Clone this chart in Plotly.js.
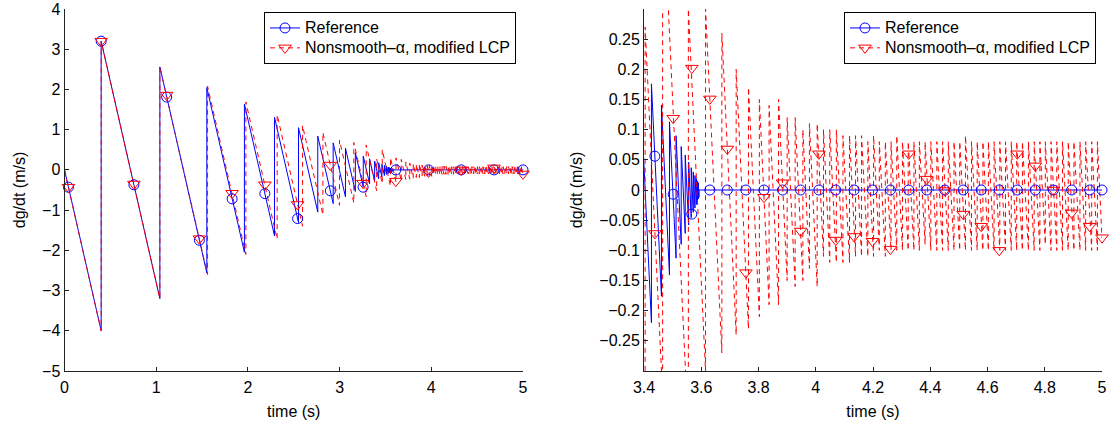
<!DOCTYPE html>
<html><head><meta charset="utf-8">
<script src="https://cdn.plot.ly/plotly-3.0.1.min.js"></script>
<style>html,body{margin:0;padding:0;background:#fff;}#chart{width:1117px;height:428px;}</style>
</head><body><div id="chart"></div>
<script>
// ---------- Reference solution (bouncing ball velocity) ----------
const refStartT = 0, refStartV = 0;
const refImpactT = [0.400,1.040,1.552,1.962,2.290,2.552,2.762,2.930,3.064,3.172,3.258,3.327,3.382,3.426,3.461,3.489,3.512,3.530,3.544,3.556,3.565,3.572,3.578,3.583,3.587,3.590,3.592];
const refVBefore = [-4.000,-3.200,-2.560,-2.048,-1.638,-1.311,-1.049,-0.839,-0.671,-0.537,-0.429,-0.344,-0.275,-0.220,-0.176,-0.141,-0.113,-0.090,-0.072,-0.058,-0.046,-0.037,-0.030,-0.024,-0.019,-0.015,-0.012];
const refVAfter  = [3.200,2.560,2.048,1.638,1.311,1.049,0.839,0.671,0.537,0.429,0.344,0.275,0.220,0.176,0.141,0.113,0.090,0.072,0.058,0.046,0.037,0.030,0.024,0.019,0.015,0.012,0.000];
const refEndT = 5.0, refEndV = 0.0;

// ---------- Nonsmooth-alpha, modified LCP ----------
const nsStartT = 0, nsStartV = 0;
const nsImpactT = [0.400,1.040,1.560,1.978,2.319,2.596,2.818,2.999,3.155,3.290,
  3.404,3.465,3.555,3.615,3.672,3.722,3.765,3.803,3.837,3.870,3.900,3.928,3.955,3.978,4.005,4.027,4.049,
  4.072,4.095,4.118,4.139,4.160,4.182,4.202,4.222,4.243,4.263,4.283,4.303,4.323,4.343,4.362,4.382,4.402,4.423,
  4.443,4.463,4.483,4.503,4.523,4.544,4.564,4.584,4.603,4.623,4.643,4.663,4.683,4.702,4.722,4.743,4.763,4.783,
  4.802,4.822,4.842,4.862,4.882,4.902,4.923,4.943,4.964,4.984];
const nsVBefore = [-4.00,-3.20,-2.60,-2.10,-1.72,-1.40,-1.12,-0.88,-0.82,-0.67,
  -0.52,-0.34,-0.40,-0.30,-0.27,-0.24,-0.23,-0.21,-0.19,-0.19,-0.15,-0.16,-0.15,-0.13,-0.16,-0.11,-0.12,
  -0.12,-0.12,-0.12,-0.11,-0.11,-0.11,-0.11,-0.10,-0.11,-0.10,-0.10,-0.10,-0.10,-0.10,-0.10,-0.09,-0.10,-0.10,
  -0.10,-0.10,-0.10,-0.10,-0.10,-0.10,-0.10,-0.10,-0.10,-0.10,-0.10,-0.10,-0.10,-0.10,-0.10,-0.10,-0.10,-0.10,
  -0.09,-0.10,-0.10,-0.10,-0.10,-0.10,-0.10,-0.10,-0.10,-0.10];
const nsVAfter = [3.20,2.56,2.08,1.69,1.37,1.10,0.93,0.74,0.68,0.62,
  0.27,0.50,0.30,0.30,0.26,0.20,0.17,0.15,0.14,0.15,0.12,0.12,0.10,0.11,0.11,0.10,0.10,
  0.10,0.09,0.09,0.09,0.09,0.08,0.09,0.08,0.08,0.08,0.09,0.08,0.08,0.08,0.08,0.08,0.08,0.08,
  0.08,0.08,0.08,0.08,0.09,0.08,0.08,0.08,0.08,0.08,0.08,0.08,0.08,0.08,0.08,0.08,0.08,0.08,
  0.08,0.08,0.08,0.08,0.08,0.08,0.08,0.08,0.08,0.08];
const nsEndT = 5.0, nsEndV = -0.08;

// ---------- Marker samples, left panel ----------
const markT1 = [0.043,0.400,0.757,1.114,1.471,1.828,2.185,2.542,2.899,3.256,3.613,3.970,4.327,4.684,5.000];
const refMark1 = [-0.43,3.20,-0.37,1.81,-1.75,-0.72,-0.59,-1.21,-0.52,-0.43,0,0,0,0,0];
const nsMark1  = [-0.43,3.20,-0.35,1.86,-1.71,-0.58,-0.37,-0.86,0.12,-0.33,-0.28,-0.05,0.00,0.05,-0.10];

// ---------- Marker samples, right panel ----------
const markT2 = [3.438,3.502,3.567,3.630,3.691,3.756,3.819,3.884,3.947,4.011,4.070,4.134,4.198,4.261,4.325,4.388,4.451,4.515,4.578,4.641,4.704,4.767,4.830,4.894,4.957,5.000];
const refMark2 = [0.056,-0.007,-0.040,0,0,0,0,0,0,0,0,0,0,0,0,0,0,0,0,0,0,0,0,0,0,0];
const nsMark2  = [-0.072,0.119,0.202,0.151,0.068,-0.137,-0.012,0.012,-0.068,0.060,-0.083,-0.077,-0.085,-0.098,0.060,0.018,-0.001,-0.040,-0.060,-0.100,0.060,0.040,0.000,-0.038,-0.060,-0.079];

const legendNames = ['Reference', 'Nonsmooth\u2013\u03b1, modified LCP'];

function buildPath(t0, v0, ts, vb, va, tEnd, vEnd) {
  const x = [t0], y = [v0];
  for (let i = 0; i < ts.length; i++) { x.push(ts[i], ts[i]); y.push(vb[i], va[i]); }
  x.push(tEnd); y.push(vEnd);
  return {x, y};
}
const refPath = buildPath(refStartT, refStartV, refImpactT, refVBefore, refVAfter, refEndT, refEndV);
const nsPath  = buildPath(nsStartT, nsStartV, nsImpactT, nsVBefore, nsVAfter, nsEndT, nsEndV);

const BLUE = '#0000ff', RED = '#ff0000';
const FONT = 'Liberation Sans, Arial, Helvetica, sans-serif';
const refLine = {color: BLUE, width: 1};
const nsLine = {color: RED, width: 1, dash: '5px,4px'};
const refMarker = {symbol: 'circle-open', size: 10, color: BLUE, line: {width: 1, color: BLUE}};
const nsMarker = {symbol: 'triangle-down-open', size: 11, color: RED, line: {width: 1, color: RED}};
const legendLabel = s => '<span style="font-size:16px">' + s + '</span>';

const traces = [];
[['x','y','legend'],['x2','y2','legend2']].forEach(([xa, ya, lg], k) => {
  const mT = k === 0 ? markT1 : markT2;
  const mR = k === 0 ? refMark1 : refMark2;
  const mN = k === 0 ? nsMark1 : nsMark2;
  traces.push({x: refPath.x, y: refPath.y, xaxis: xa, yaxis: ya, mode: 'lines', line: refLine, showlegend: false, hoverinfo: 'skip'});
  traces.push({x: nsPath.x, y: nsPath.y, xaxis: xa, yaxis: ya, mode: 'lines', line: nsLine, showlegend: false, hoverinfo: 'skip'});
  traces.push({x: mT, y: mR, xaxis: xa, yaxis: ya, mode: 'markers', marker: refMarker, showlegend: false, cliponaxis: false, hoverinfo: 'skip'});
  traces.push({x: mT, y: mN, xaxis: xa, yaxis: ya, mode: 'markers', marker: nsMarker, showlegend: false, cliponaxis: false, hoverinfo: 'skip'});
  traces.push({x: [null], y: [null], xaxis: xa, yaxis: ya, mode: 'lines+markers', line: refLine, marker: refMarker, name: legendLabel(legendNames[0]), legend: lg, showlegend: true});
  traces.push({x: [null], y: [null], xaxis: xa, yaxis: ya, mode: 'lines+markers', line: nsLine, marker: nsMarker, name: legendLabel(legendNames[1]), legend: lg, showlegend: true});
});

const axisCommon = {
  showgrid: false, zeroline: false, showline: true, linecolor: '#222', linewidth: 1,
  ticks: 'inside', ticklen: 4, tickcolor: '#222', tickwidth: 1, mirror: false,
  tickfont: {family: FONT, size: 16, color: '#000'}
};
const legendCommon = {
  bgcolor: '#fff', bordercolor: '#000', borderwidth: 1,
  font: {family: FONT, size: 13, color: '#000'},
  xanchor: 'left', yanchor: 'top', tracegroupgap: 0, itemwidth: 30
};
const yTop = 1 - 9/428, yBot = 1 - 371/428;
const layout = {
  width: 1117, height: 428,
  margin: {l: 0, r: 0, t: 0, b: 0},
  paper_bgcolor: '#fff', plot_bgcolor: '#fff',
  font: {family: FONT, size: 16, color: '#000'},
  showlegend: true,
  xaxis: Object.assign({}, axisCommon, {domain: [64.5/1117, 523/1117], range: [0, 5], tickvals: [0,1,2,3,4,5], anchor: 'y', ticklabelstandoff: 2,
    title: {text: 'time (s)', font: {family: FONT, size: 16}, standoff: 10}}),
  yaxis: Object.assign({}, axisCommon, {domain: [yBot, yTop], range: [-5, 4], tickvals: [-5,-4,-3,-2,-1,0,1,2,3,4], anchor: 'x',
    title: {text: 'dg/dt (m/s)', font: {family: FONT, size: 16}, standoff: 12}}),
  xaxis2: Object.assign({}, axisCommon, {domain: [644/1117, 1102/1117], range: [3.4, 5], tickvals: [3.4,3.6,3.8,4,4.2,4.4,4.6,4.8,5], ticktext: ['3.4','3.6','3.8','4','4.2','4.4','4.6','4.8','5'], anchor: 'y2', ticklabelstandoff: 2,
    title: {text: 'time (s)', font: {family: FONT, size: 16}, standoff: 10}}),
  yaxis2: Object.assign({}, axisCommon, {domain: [yBot, yTop], range: [-0.3, 0.3],
    tickvals: [-0.25,-0.2,-0.15,-0.1,-0.05,0,0.05,0.1,0.15,0.2,0.25],
    ticktext: ['\u22120.25','\u22120.2','\u22120.15','\u22120.1','\u22120.05','0','0.05','0.1','0.15','0.2','0.25'], anchor: 'x2',
    title: {text: 'dg/dt (m/s)', font: {family: FONT, size: 16}, standoff: 12}}),
  legend: Object.assign({}, legendCommon, {x: 264/1117, y: 1 - 12/428}),
  legend2: Object.assign({}, legendCommon, {x: 844/1117, y: 1 - 12/428})
};
Plotly.newPlot('chart', traces, layout, {staticPlot: true, displayModeBar: false});
</script></body></html>
